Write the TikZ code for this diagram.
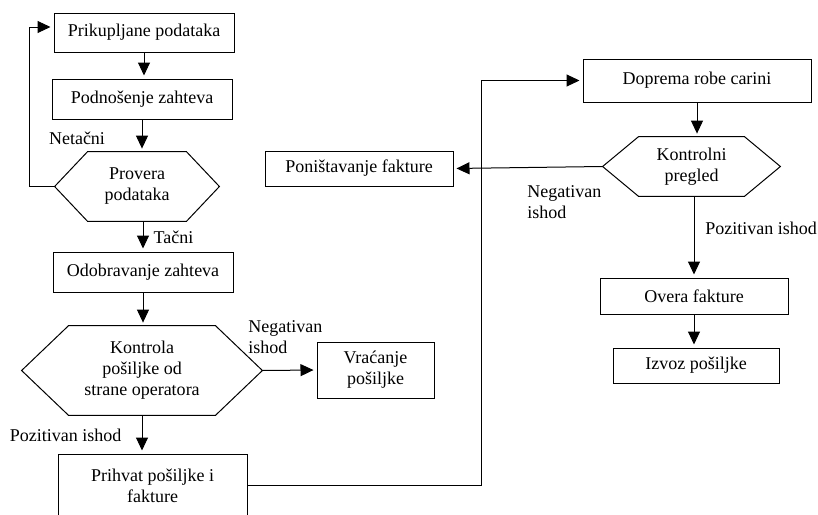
\documentclass[tikz,border=0pt]{standalone}
\usepackage{fontspec}
\setmainfont{Liberation Serif}
\usepackage{tikz}
\usetikzlibrary{arrows.meta}
\usetikzlibrary{positioning}

\tikzset{
	korak/.style={draw, line width=0.5pt, align=center, inner sep=0pt, font=\rmfamily\fontsize{9}{10.5}\selectfont},
	odluka/.style={align=center, inner sep=0pt, font=\rmfamily\fontsize{9}{10.5}\selectfont},
	natpis/.style={align=left, inner sep=0pt, font=\rmfamily\fontsize{9}{10.5}\selectfont},
	tok/.style={line width=0.5pt, -{Triangle[length=6.5pt,width=6pt]}, shorten >=1.5pt},
	veza/.style={line width=0.5pt}
}

% okvir odluke: sestougao oko cvora #1, kosina #2
\newcommand{\sestougao}[2]{
	\draw[veza] (#1.west) -- ([xshift=#2]#1.north west) -- ([xshift=-#2]#1.north east)
		-- (#1.east) -- ([xshift=-#2]#1.south east) -- ([xshift=#2]#1.south west) -- cycle;
}

\begin{document}
\begin{tikzpicture}[x=0.5pt,y=-0.5pt]

	\useasboundingbox (0,0) rectangle (818,514);

	% leva kolona
	\node[korak, minimum width=90pt, minimum height=19.5pt] (prikup) at (144,32.5) {Prikupljane podataka};
	\node[korak, minimum width=90pt, minimum height=20pt] (podnos) at (142,99) {Podno\v{s}enje zahteva};
	\node[odluka, minimum width=82pt, minimum height=34.5pt] (provera) at (137,186.5) {Provera\\podataka};
	\node[korak, minimum width=90pt, minimum height=20pt] (odobr) at (143,272) {Odobravanje zahteva};
	\node[odluka, minimum width=120pt, minimum height=44.5pt] (kontrola) at (142,370.5) {Kontrola\\po\v{s}iljke od\\strane operatora};
	\node[korak, minimum width=58.5pt, minimum height=28pt] (vracanje) at (375.5,370) {Vra\'{c}anje\\po\v{s}iljke};
	\node[korak, minimum width=94.5pt, minimum height=31.5pt] (prihvat) at (152.5,485.5) {Prihvat po\v{s}iljke i\\fakture};

	% desna kolona
	\node[korak, minimum width=94pt, minimum height=17.5pt] (ponist) at (359,168.5) {Poni\v{s}tavanje fakture};
	\node[korak, minimum width=114pt, minimum height=21.5pt] (doprema) at (697,80.5) {Doprema robe carini};
	\node[odluka, minimum width=88.5pt, minimum height=29.5pt] (kontrolni) at (691.5,166.5) {Kontrolni\\pregled};
	\node[korak, minimum width=94pt, minimum height=18pt] (overa) at (694,296) {Overa fakture};
	\node[korak, minimum width=83pt, minimum height=17.5pt] (izvoz) at (696,365.5) {Izvoz po\v{s}iljke};

	\sestougao{provera}{16.5pt}
	\sestougao{kontrola}{23.5pt}
	\sestougao{kontrolni}{18pt}

	% natpisi
	\node[natpis] (netacni) at (77,138) {Neta\v{c}ni};
	\node[natpis] (tacni) at (173.5,237) {Ta\v{c}ni};
	\node[natpis, anchor=west] (neg1) at (248,337) {Negativan\\ishod};
	\node[natpis] (poz1) at (65.5,435) {Pozitivan ishod};
	\node[natpis, anchor=west] (neg2) at (527,202.5) {Negativan\\ishod};
	\node[natpis, anchor=west] (poz2) at (705,228) {Pozitivan ishod};

	\coordinate (povratak) at (29,0);
	\coordinate (skretanje) at (481,0);

	% veze
	\draw[tok] (prikup.south) -- (prikup.south |- podnos.north);
	\draw[tok] (podnos.south) -- (podnos.south |- provera.north);
	\draw[tok] (provera.west) -- (povratak |- provera.west) -- ([yshift=2.75pt]povratak |- prikup.west) -- ([yshift=2.75pt]prikup.west);
	\draw[tok] (provera.south -| odobr.north) -- (odobr.north);
	\draw[tok] (odobr.south) -- (odobr.south |- kontrola.north);
	\draw[tok] (kontrola.east) -- (vracanje.west);
	\draw[tok] (kontrola.south) -- (kontrola.south |- prihvat.north);
	\draw[tok] (prihvat.east) -| (skretanje |- doprema.west) -- (doprema.west);
	\draw[tok] (doprema.south) -- (doprema.south |- kontrolni.north);
	\draw[tok] (kontrolni.west) -- (ponist.east);
	\draw[tok] (kontrolni.south -| overa.north) -- (overa.north);
	\draw[tok] (overa.south) -- (overa.south |- izvoz.north);

\end{tikzpicture}
\end{document}
